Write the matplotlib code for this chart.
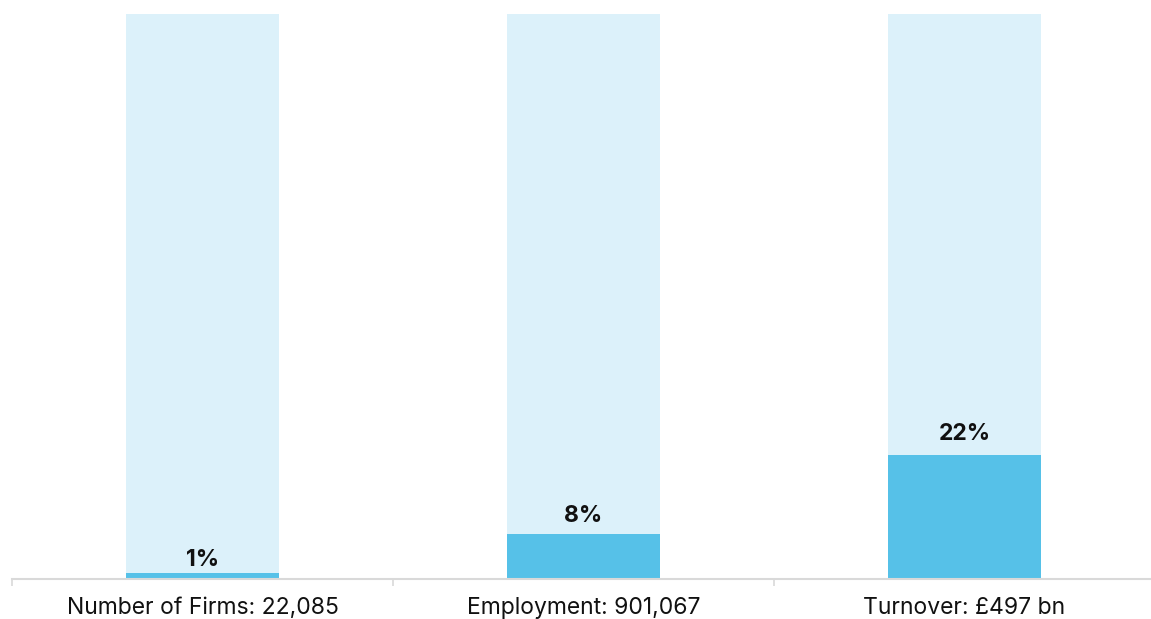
import matplotlib
matplotlib.use("Agg")
import matplotlib.pyplot as plt

plt.rcParams["font.family"] = ["Inter", "DejaVu Sans"]

categories = ["Number of Firms: 22,085", "Employment: 901,067", "Turnover: £497 bn"]
shares = [1, 8, 22]
totals = [100, 100, 100]

LIGHT = "#DCF1FA"
DARK = "#56C1E8"
AXIS = "#D9D9D9"

fig = plt.figure(figsize=(11.51, 6.19), dpi=100)
ax = fig.add_axes([12 / 1151, 1 - 579 / 619, 1143 / 1151, 565 / 619])

x = list(range(len(categories)))
ax.bar(x, totals, width=0.4, color=LIGHT, zorder=1)
ax.bar(x, shares, width=0.4, color=DARK, zorder=2)

# label gap above each segment (points)
gaps = [9.5, 12.5, 15]
for xi, v, g in zip(x, shares, gaps):
    ax.annotate(f"{v}%", (xi, v), xytext=(0, g), textcoords="offset points",
                ha="center", va="center", fontsize=16.5, fontweight="bold",
                color="#111111")

ax.set_xlim(-0.5, 2.5)
ax.set_ylim(0, 100)
ax.set_yticks([])
ax.set_xticks(x)
ax.set_xticklabels(categories, fontsize=16.5, color="#111111")
ax.set_xticks([-0.5, 0.5, 1.5, 2.5], minor=True)
ax.tick_params(axis="x", which="major", length=0, pad=13)
ax.tick_params(axis="x", which="minor", length=5, width=1.2, color=AXIS)

for s in ["top", "right", "left"]:
    ax.spines[s].set_visible(False)
ax.spines["bottom"].set_color(AXIS)
ax.spines["bottom"].set_linewidth(1.5)

fig.savefig("out.png", dpi=100)
